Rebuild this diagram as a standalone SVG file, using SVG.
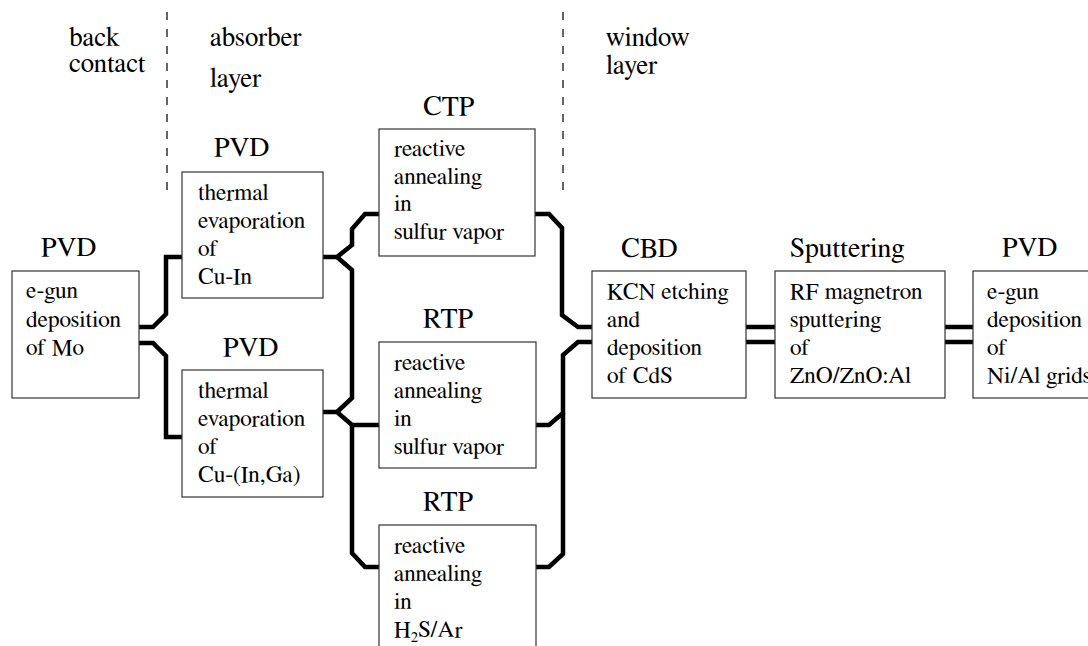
<svg xmlns="http://www.w3.org/2000/svg" width="1088" height="646" viewBox="0 0 1088 646">
  <style>
    text { font-family: FreeSerif, "DejaVu Serif", serif; fill: #000; }
    .lbl { font-size: 28px; }
    .txt { font-size: 23.4px; }
    .hdr { font-size: 27px; }
    .box { fill: #fff; stroke: #333; stroke-width: 1.2; }
    .wire { fill: none; stroke: #000; stroke-width: 4.5; stroke-linejoin: miter; }
    .sep { stroke: #000; stroke-width: 1.2; stroke-dasharray: 8 9; }
  </style>

  <rect width="1088" height="646" fill="#fff"/>

  <!-- layer separators and headings -->
  <g id="layers">
    <line class="sep" x1="167" y1="12" x2="167" y2="196"/>
    <line class="sep" x1="563" y1="12" x2="563" y2="196"/>
    <text class="hdr" x="69" y="46">back</text>
    <text class="hdr" x="69" y="72">contact</text>
    <text class="hdr" x="210" y="46">absorber</text>
    <text class="hdr" x="210" y="87">layer</text>
    <text class="hdr" x="606" y="46">window</text>
    <text class="hdr" x="606" y="74">layer</text>
  </g>

  <!-- connectors -->
  <g id="connectors">
    <path class="wire" d="M139,327 H153 L166,314 V257 H182"/>
    <path class="wire" d="M139,343 H153 L166,356 V437 H182"/>
    <path class="wire" d="M323,257 H337 L352,245 V229 L365,214 H379"/>
    <path class="wire" d="M337,257 L352,270 V398 L337,412"/>
    <path class="wire" d="M323,412 H337 L352,425 H379"/>
    <path class="wire" d="M352,425 V553 L365,567 H379"/>
    <path class="wire" d="M535,214 H549 L562,228 V315 L578,327 H592"/>
    <path class="wire" d="M536,425 H549 L563,413 V355 L578,342 H592"/>
    <path class="wire" d="M536,567 H549 L563,554 V413"/>
    <path class="wire" d="M746,327 H775 M746,342 H775"/>
    <path class="wire" d="M945,327 H973 M945,342 H973"/>
  </g>

  <g id="mo">
    <text class="lbl" x="41" y="256">PVD</text>
    <rect class="box" x="12" y="271" width="127" height="127"/>
    <text class="txt" x="26" y="298">e-gun</text>
    <text class="txt" x="26" y="327">deposition</text>
    <text class="txt" x="26" y="355">of Mo</text>
  </g>

  <g id="cu-in">
    <text class="lbl" x="214" y="156">PVD</text>
    <rect class="box" x="182" y="172" width="141" height="126"/>
    <text class="txt" x="198" y="200">thermal</text>
    <text class="txt" x="198" y="228">evaporation</text>
    <text class="txt" x="198" y="256">of</text>
    <text class="txt" x="198" y="284">Cu-In</text>
  </g>

  <g id="cu-in-ga">
    <text class="lbl" x="223" y="356">PVD</text>
    <rect class="box" x="182" y="370" width="141" height="127"/>
    <text class="txt" x="198" y="398">thermal</text>
    <text class="txt" x="198" y="426">evaporation</text>
    <text class="txt" x="198" y="454">of</text>
    <text class="txt" x="198" y="482">Cu-(In,Ga)</text>
  </g>

  <g id="ctp">
    <text class="lbl" x="423" y="115">CTP</text>
    <rect class="box" x="379" y="129" width="156" height="127"/>
    <text class="txt" x="394" y="156">reactive</text>
    <text class="txt" x="394" y="183.5">annealing</text>
    <text class="txt" x="394" y="211">in</text>
    <text class="txt" x="394" y="238.5">sulfur vapor</text>
  </g>

  <g id="rtp-sulfur">
    <text class="lbl" x="423" y="327">RTP</text>
    <rect class="box" x="379" y="342" width="157" height="126"/>
    <text class="txt" x="394" y="370">reactive</text>
    <text class="txt" x="394" y="398">annealing</text>
    <text class="txt" x="394" y="426">in</text>
    <text class="txt" x="394" y="454">sulfur vapor</text>
  </g>

  <g id="rtp-h2s">
    <text class="lbl" x="423" y="510">RTP</text>
    <rect class="box" x="379" y="525" width="157" height="140"/>
    <text class="txt" x="394" y="553">reactive</text>
    <text class="txt" x="394" y="581">annealing</text>
    <text class="txt" x="394" y="609">in</text>
    <text class="txt" x="394" y="637">H<tspan font-size="15" dy="5">2</tspan><tspan dy="-5">S/Ar</tspan></text>
  </g>

  <g id="cbd">
    <text class="lbl" x="621" y="257">CBD</text>
    <rect class="box" x="592" y="271" width="154" height="127"/>
    <text class="txt" x="607" y="299">KCN etching</text>
    <text class="txt" x="607" y="327">and</text>
    <text class="txt" x="607" y="355">deposition</text>
    <text class="txt" x="607" y="383">of CdS</text>
  </g>

  <g id="sputtering">
    <text class="lbl" x="790" y="257">Sputtering</text>
    <rect class="box" x="775" y="271" width="170" height="127"/>
    <text class="txt" x="790" y="299">RF magnetron</text>
    <text class="txt" x="790" y="327">sputtering</text>
    <text class="txt" x="790" y="355">of</text>
    <text class="txt" x="790" y="383">ZnO/ZnO:Al</text>
  </g>

  <g id="grids">
    <text class="lbl" x="1002" y="256">PVD</text>
    <rect class="box" x="973" y="271" width="140" height="127"/>
    <text class="txt" x="987" y="299">e-gun</text>
    <text class="txt" x="987" y="327">deposition</text>
    <text class="txt" x="987" y="355">of</text>
    <text class="txt" x="987" y="383">Ni/Al grids</text>
  </g>
</svg>
